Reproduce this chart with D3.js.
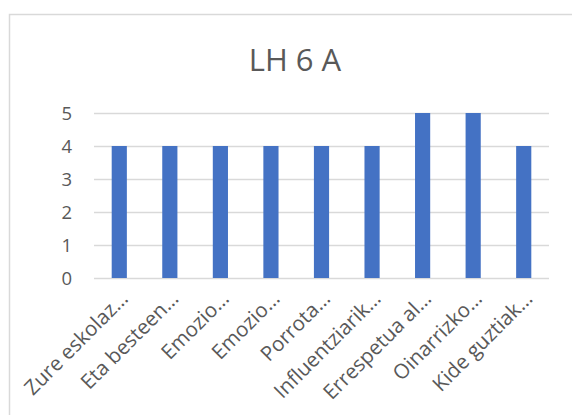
<!DOCTYPE html>
<html>
<head>
<meta charset="utf-8">
<script src="https://cdn.jsdelivr.net/npm/d3@7"></script>
<style>
  html, body { margin: 0; padding: 0; background: #fff; }
  svg { display: block; }
</style>
</head>
<body>
<script>
// Chart data
const title = "LH 6 A";
const categories = [
  "Zure eskolaz…",
  "Eta besteen…",
  "Emozio…",
  "Emozio…",
  "Porrota…",
  "Influentziarik…",
  "Errespetua al…",
  "Oinarrizko…",
  "Kide guztiak…"
];
const values = [4, 4, 4, 4, 4, 4, 5, 5, 4];
const yTicks = [0, 1, 2, 3, 4, 5];

const W = 572, H = 415;
const margin = { left: 94, right: 23, top: 113, bottom: 137 };
const font = "'Open Sans', sans-serif";
const textColor = "#595959";

const svg = d3.select("body").append("svg")
  .attr("width", W).attr("height", H);

// chart frame
svg.append("rect")
  .attr("x", 9.5).attr("y", 14.5)
  .attr("width", 600).attr("height", 500)
  .attr("fill", "#fff")
  .attr("stroke", "#d9d9d9").attr("stroke-width", 1.5);

const x = d3.scaleBand()
  .domain(d3.range(categories.length))
  .range([margin.left, W - margin.right])
  .paddingInner(0.7).paddingOuter(0.35);

const y = d3.scaleLinear()
  .domain([0, 5])
  .range([H - margin.bottom, margin.top]);

// gridlines
svg.append("g")
  .selectAll("line")
  .data(yTicks)
  .join("line")
  .attr("x1", margin.left).attr("x2", W - margin.right)
  .attr("y1", d => y(d) + 0.5).attr("y2", d => y(d) + 0.5)
  .attr("stroke", "#d9d9d9").attr("stroke-width", 1.5);

// y axis labels
const yAxis = d3.axisLeft(y).tickValues(yTicks).tickFormat(d3.format("d"))
  .tickSize(0).tickPadding(0);
svg.append("g")
  .attr("transform", `translate(72,0)`)
  .call(yAxis)
  .call(g => g.select(".domain").remove())
  .call(g => g.selectAll("text")
    .attr("fill", textColor)
    .attr("font-family", font)
    .attr("font-size", 18.5)
    .attr("dy", "0.36em"));

// bars
svg.append("g")
  .selectAll("rect")
  .data(values)
  .join("rect")
  .attr("x", (d, i) => x(i))
  .attr("y", d => y(d))
  .attr("width", x.bandwidth())
  .attr("height", d => y(0) - y(d))
  .attr("fill", "#4472c4");

// category labels
const xAxis = d3.axisBottom(x).tickSize(0).tickFormat(i => categories[i]);
svg.append("g")
  .attr("transform", `translate(0,${y(0)})`)
  .call(xAxis)
  .call(g => g.select(".domain").remove())
  .call(g => g.selectAll("text")
    .attr("fill", textColor)
    .attr("font-family", font)
    .attr("font-size", 20.5)
    .attr("text-anchor", "end")
    .attr("dy", null)
    .attr("y", 0)
    .attr("transform", "translate(10,22) rotate(-45)"));

// title
svg.append("text")
  .attr("x", 295).attr("y", 71)
  .attr("text-anchor", "middle")
  .attr("fill", textColor)
  .attr("font-family", font)
  .attr("font-size", 31)
  .text(title);
</script>
</body>
</html>
